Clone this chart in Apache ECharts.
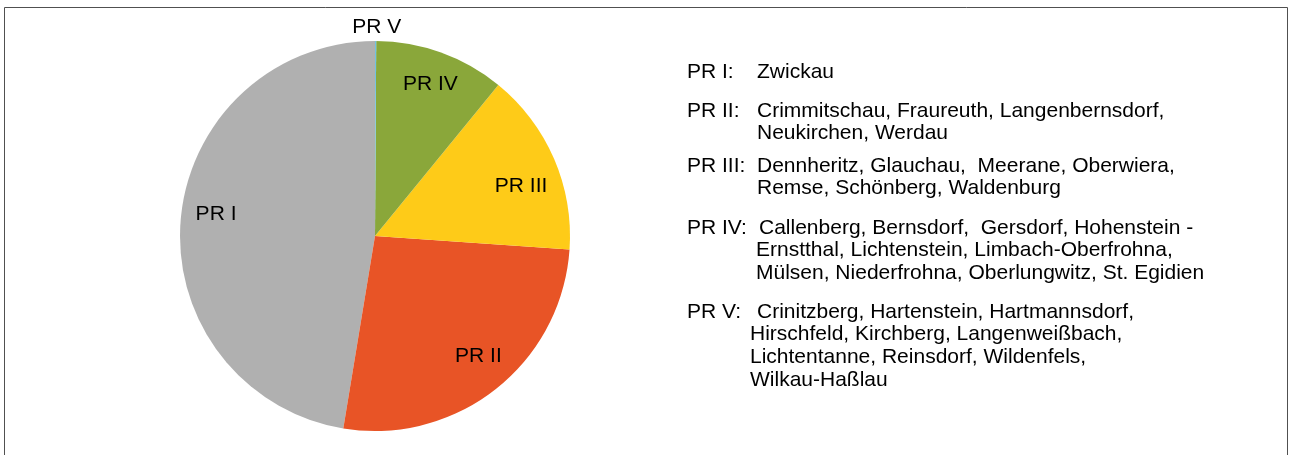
<!DOCTYPE html>
<html>
<head>
<meta charset="utf-8">
<script src="https://cdn.jsdelivr.net/npm/echarts@6/dist/echarts.min.js"></script>
<style>
  html, body { margin: 0; padding: 0; background: #fff; }
  #chart { width: 1290px; height: 455px; }
</style>
</head>
<body>
<div id="chart"></div>
<script>
// Planungsraeume, Anteile in Prozent
const regions = ['PR I', 'PR II', 'PR III', 'PR IV', 'PR V'];
const shares = [47.4, 26.5, 15.2, 10.8, 0.1];
const colors = ['#b0b0b0', '#e85426', '#fecb18', '#8aa73a', '#72c2e2'];

// Textblock rechts
const legendKeys = ['PR I:', 'PR II:', 'PR III:', 'PR IV:', 'PR V:'];
const legendTowns = [
  ['Zwickau'],
  ['Crimmitschau, Fraureuth, Langenbernsdorf,', 'Neukirchen, Werdau'],
  ['Dennheritz, Glauchau,  Meerane, Oberwiera,', 'Remse, Schönberg, Waldenburg'],
  ['Callenberg, Bernsdorf,  Gersdorf, Hohenstein -', 'Ernstthal, Lichtenstein, Limbach-Oberfrohna,', 'Mülsen, Niederfrohna, Oberlungwitz, St. Egidien'],
  ['Crinitzberg, Hartenstein, Hartmannsdorf,', 'Hirschfeld, Kirchberg, Langenweißbach,', 'Lichtentanne, Reinsdorf, Wildenfels,', 'Wilkau-Haßlau']
];

const font = '"Liberation Sans", Arial, sans-serif';
const fs = 21;
const blockTop = [72, 111, 166, 228, 312];
const lineGap = 22.7;
const firstX = [757, 757, 757, 759, 757];
const contX = [757, 757, 757, 756, 750];

const graphics = [{
  type: 'rect',
  shape: { x: 4.5, y: 7.5, width: 1283, height: 460 },
  style: { fill: 'none', stroke: '#505050', lineWidth: 1 },
  silent: true
}];
legendKeys.forEach((k, i) => {
  graphics.push({
    type: 'text', x: 687, y: blockTop[i],
    style: { text: k, fontSize: fs, fontFamily: font, fill: '#000', verticalAlign: 'middle' }
  });
  legendTowns[i].forEach((t, j) => {
    graphics.push({
      type: 'text', x: j === 0 ? firstX[i] : contX[i], y: blockTop[i] + j * lineGap,
      style: { text: t, fontSize: fs, fontFamily: font, fill: '#000', verticalAlign: 'middle' }
    });
  });
});

// kleine Verschiebungen der Beschriftungen wie im Original
const nudge = [[4, -8], [2, -8], [-4, 15], [0, 2], [-4, 0]];

const chart = echarts.init(document.getElementById('chart'));
chart.setOption({
  animation: false,
  color: colors,
  graphic: graphics,
  series: [
    {
      type: 'pie',
      center: [375, 236],
      radius: [0, 195],
      startAngle: 90,
      clockwise: false,
      silent: true,
      label: { show: false },
      labelLine: { show: false },
      itemStyle: { borderWidth: 0 },
      data: regions.map((n, i) => ({ name: n, value: shares[i] }))
    },
    {
      // nur fuer die Beschriftung
      type: 'pie',
      center: [375, 236],
      radius: [126, 195],
      startAngle: 90,
      clockwise: false,
      silent: true,
      avoidLabelOverlap: false,
      itemStyle: { color: 'rgba(0,0,0,0)', borderWidth: 0 },
      label: {
        show: true, position: 'inside', formatter: '{b}',
        fontSize: fs, fontFamily: font, color: '#000'
      },
      labelLine: { show: false, length: 14, length2: 0 },
      labelLayout: p => {
        const o = { dx: nudge[p.dataIndex][0], dy: nudge[p.dataIndex][1] };
        if (p.dataIndex === 4) o.align = 'center';
        return o;
      },
      data: regions.map((n, i) => ({
        name: n, value: shares[i],
        label: i === 4 ? { position: 'outside' } : undefined
      }))
    }
  ]
});
</script>
</body>
</html>
